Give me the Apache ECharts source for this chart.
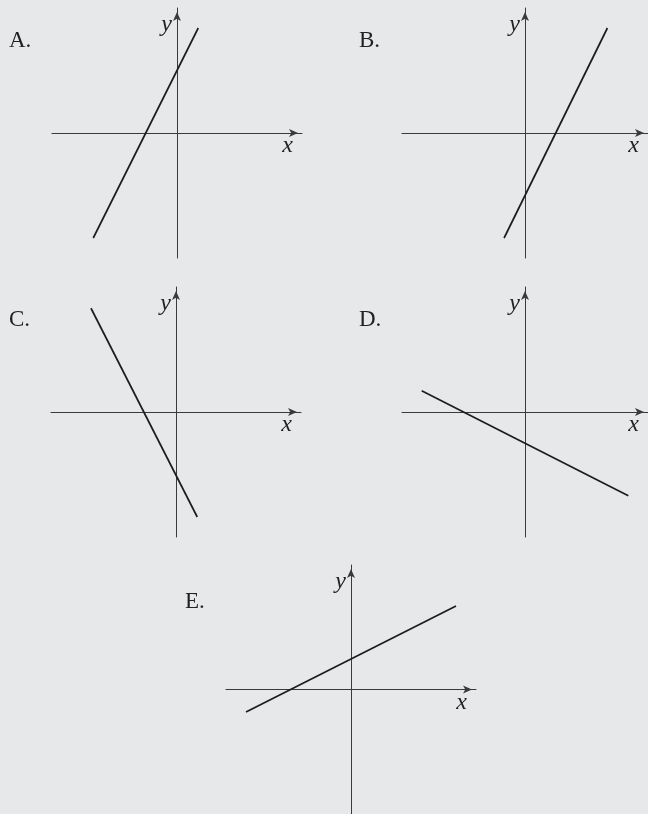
<!DOCTYPE html>
<html>
  <head>
    <meta charset="utf-8">
    <title>echarts</title>
    <script src="https://cdn.jsdelivr.net/npm/echarts@6/dist/echarts.min.js"></script>
  </head>
  <style>
    html,body {
      width: 100%;
      height: 100%;
      margin: 0;
      padding: 0;
      background: #e7e8ea;
    }
    #main {
      width: 648px;
      height: 814px;
    }
  </style>
  <body>
    <div id="main"></div>
  </body>
  <script>
    // 每个小图: 直线两端点 (坐标轴范围 -5 ~ 5)
    var labels = ['A.', 'B.', 'C.', 'D.', 'E.'];
    var lineA = [[-3.35, -4.2], [0.85, 4.2]];
    var lineB = [[-0.85, -4.2], [3.35, 4.2]];
    var lineC = [[-3.4, 4.15], [0.85, -4.2]];
    var lineD = [[-4.2, 0.85], [4.2, -3.35]];
    var lineE = [[-4.2, -0.9], [4.2, 3.35]];
    var lines = [lineA, lineB, lineC, lineD, lineE];

    // 网格位置
    var grids = [
      {left: 52, top: 8},
      {left: 402, top: 8},
      {left: 51, top: 287},
      {left: 402, top: 287},
      {left: 226, top: 565}
    ];
    var labelPos = [
      {left: 9, top: 29},
      {left: 359, top: 29},
      {left: 9, top: 308},
      {left: 359, top: 308},
      {left: 185, top: 590}
    ];

    var serif = '"Liberation Serif", "DejaVu Serif", serif';
    var axisColor = '#3a3a3a';

    function makeAxis(dim, index) {
      var isX = dim === 'x';
      return {
        type: 'value',
        gridIndex: index,
        min: -5,
        max: 5,
        name: dim,
        nameLocation: 'end',
        nameGap: isX ? -9 : -17,
        nameTextStyle: isX ? {
          fontFamily: serif,
          fontStyle: 'italic',
          fontSize: 24,
          color: '#222',
          align: 'right',
          verticalAlign: 'top',
          padding: [1, 0, 0, 0]
        } : {
          fontFamily: serif,
          fontStyle: 'italic',
          fontSize: 24,
          color: '#222',
          align: 'right',
          verticalAlign: 'middle',
          padding: [0, 5, 0, 0]
        },
        axisLine: {
          onZero: true,
          symbol: ['none', 'arrow'],
          symbolSize: [6, 9],
          symbolOffset: [0, -4],
          lineStyle: {color: axisColor, width: 1}
        },
        axisTick: {show: false},
        axisLabel: {show: false},
        splitLine: {show: false}
      };
    }

    var grid = [], xAxis = [], yAxis = [], series = [], title = [];
    lines.forEach(function(item, i) {
      grid.push({left: grids[i].left, top: grids[i].top, width: 250, height: 250});
      xAxis.push(makeAxis('x', i));
      yAxis.push(makeAxis('y', i));
      series.push({
        type: 'line',
        xAxisIndex: i,
        yAxisIndex: i,
        data: item,
        showSymbol: false,
        silent: true,
        animation: false,
        lineStyle: {color: '#1c1c1c', width: 1.7}
      });
      title.push({
        text: labels[i],
        left: labelPos[i].left,
        top: labelPos[i].top,
        padding: 0,
        textStyle: {fontFamily: serif, fontWeight: 'normal', fontSize: 23, color: '#222'}
      });
    });

    var charts = echarts.init(document.getElementById('main'));
    charts.setOption({
      backgroundColor: '#e7e8ea',
      animation: false,
      title: title,
      grid: grid,
      xAxis: xAxis,
      yAxis: yAxis,
      series: series
    });
  </script>
</html>
